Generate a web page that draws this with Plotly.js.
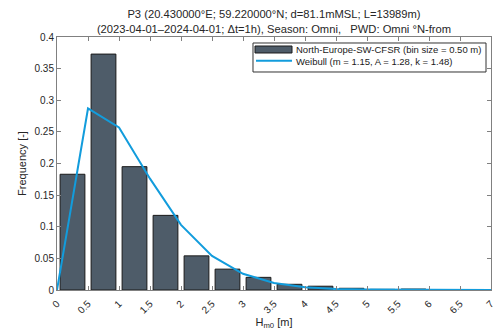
<!DOCTYPE html>
<html>
<head>
<meta charset="utf-8">
<script src="https://cdn.plot.ly/plotly-3.0.1.min.js"></script>
<style>
  html, body { margin: 0; padding: 0; background: #fff; }
  #chart { width: 496px; height: 330px; }
</style>
</head>
<body>
<div id="chart"></div>
<script>
// Hm0 histogram bins (centres, m) and relative frequency per bin
const binCentres = [0.25, 0.75, 1.25, 1.75, 2.25, 2.75, 3.25, 3.75, 4.25, 4.75, 5.25, 5.75, 6.25, 6.75];
const binFrequency = [0.183, 0.373, 0.195, 0.118, 0.054, 0.033, 0.020, 0.009, 0.006, 0.0027, 0.001, 0.0015, 0.0005, 0.0002];

// Fitted Weibull curve, sampled at the bin edges
const fitHs = [0, 0.5, 1, 1.5, 2, 2.5, 3, 3.5, 4, 4.5, 5, 5.5, 6, 6.5, 7];
const fitFrequency = [0, 0.287, 0.257, 0.176, 0.103, 0.054, 0.0256, 0.0111, 0.0045, 0.0017, 0.0006, 0.0002, 0.00006, 0.00002, 0];

const xTicks = [0, 0.5, 1, 1.5, 2, 2.5, 3, 3.5, 4, 4.5, 5, 5.5, 6, 6.5, 7];
const xTickText = ['0', '0.5', '1', '1.5', '2', '2.5', '3', '3.5', '4', '4.5', '5', '5.5', '6', '6.5', '7'];
const yTicks = [0, 0.05, 0.1, 0.15, 0.2, 0.25, 0.3, 0.35, 0.4];
const yTickText = ['0', '0.05', '0.1', '0.15', '0.2', '0.25', '0.3', '0.35', '0.4'];

const histName = 'North-Europe-SW-CFSR (bin size = 0.50 m)';
const fitName = 'Weibull (m = 1.15, A = 1.28, k = 1.48)';

const barColour = '#4e5c69';
const fitColour = '#129cdc';
const font = 'Liberation Sans, Arial, sans-serif';

const histTrace = {
  type: 'bar',
  x: binCentres,
  y: binFrequency,
  width: 0.4,
  name: histName,
  marker: { color: barColour, line: { color: '#1a1a1a', width: 1 } }
};

const fitTrace = {
  type: 'scatter',
  mode: 'lines',
  x: fitHs,
  y: fitFrequency,
  name: fitName,
  line: { color: fitColour, width: 2 }
};

const axisCommon = {
  showline: true,
  mirror: 'ticks',
  linecolor: '#808080',
  linewidth: 1,
  ticks: 'inside',
  ticklen: 4,
  tickcolor: '#808080',
  showgrid: false,
  zeroline: false,
  tickfont: { family: font, size: 10, color: '#262626' }
};

// Legend box drawn in paper coordinates (compact, MATLAB-style)
const legendShapes = [
  { type: 'rect', xref: 'paper', yref: 'paper', x0: 0.4516, x1: 0.9885, y0: 0.8617, y1: 0.9763,
    line: { color: '#333333', width: 1 }, fillcolor: '#ffffff', layer: 'above' },
  { type: 'rect', xref: 'paper', yref: 'paper', x0: 0.4562, x1: 0.5415, y0: 0.9368, y1: 0.9644,
    line: { color: '#1a1a1a', width: 1 }, fillcolor: barColour, layer: 'above' },
  { type: 'line', xref: 'paper', yref: 'paper', x0: 0.4585, x1: 0.5415, y0: 0.9063, y1: 0.9063,
    line: { color: fitColour, width: 2 }, layer: 'above' }
];
const legendLabels = [
  { text: histName, xref: 'paper', yref: 'paper', x: 0.5461, y: 0.9506, xanchor: 'left', yanchor: 'middle',
    showarrow: false, font: { family: font, size: 9.5, color: '#1a1a1a' } },
  { text: fitName, xref: 'paper', yref: 'paper', x: 0.5461, y: 0.9051, xanchor: 'left', yanchor: 'middle',
    showarrow: false, font: { family: font, size: 9.5, color: '#1a1a1a' } }
];

const layout = {
  width: 496,
  height: 330,
  margin: { l: 57, r: 5, t: 37, b: 40 },
  paper_bgcolor: '#ffffff',
  plot_bgcolor: '#ffffff',
  font: { family: font, color: '#262626' },
  title: {
    text: 'P3 (20.430000°E; 59.220000°N; d=81.1mMSL; L=13989m)<br>(2023-04-01–2024-04-01; Δt=1h), Season: Omni,   PWD: Omni °N-from',
    font: { family: font, size: 11.2, color: '#262626' },
    xref: 'paper', x: 0.5, xanchor: 'center',
    yref: 'container', y: 0.945, yanchor: 'top'
  },
  xaxis: Object.assign({}, axisCommon, {
    range: [-0.00001, 7.00001],
    tickmode: 'array',
    tickvals: xTicks,
    ticktext: xTickText,
    tickangle: -45,
    ticklabeloverflow: 'allow',
    ticklabelstandoff: 3,
    title: { text: 'H<sub>m0</sub> [m]', font: { family: font, size: 11, color: '#262626' }, standoff: 4 }
  }),
  yaxis: Object.assign({}, axisCommon, {
    range: [0, 0.4],
    tickmode: 'array',
    tickvals: yTicks,
    ticktext: yTickText,
    title: { text: 'Frequency [-]', font: { family: font, size: 11, color: '#262626' }, standoff: 5 }
  }),
  showlegend: false,
  shapes: legendShapes,
  annotations: legendLabels,
  bargap: 0
};

Plotly.newPlot('chart', [histTrace, fitTrace], layout, { displayModeBar: false, staticPlot: true });
</script>
</body>
</html>
